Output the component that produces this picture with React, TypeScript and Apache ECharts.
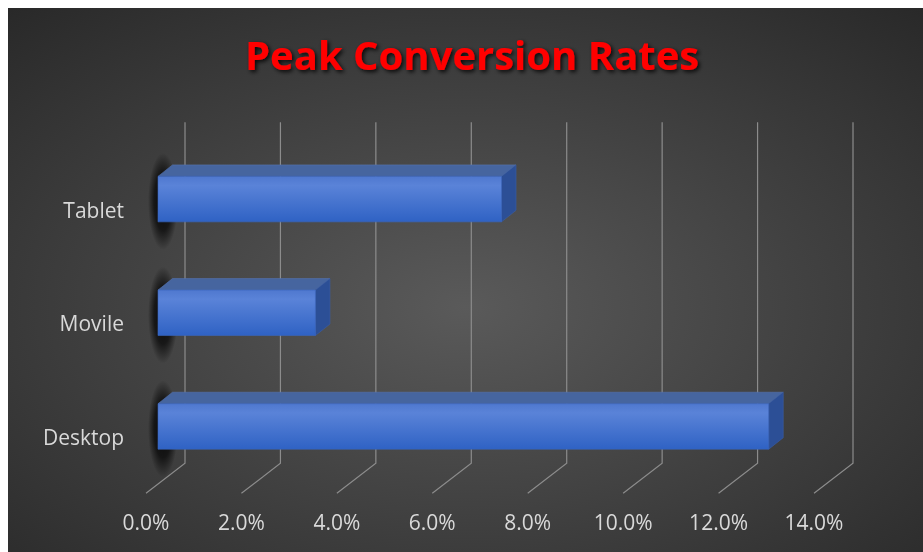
import React, { useEffect, useRef } from "react";
import * as echarts from "echarts";

const categories = ["Desktop", "Movile", "Tablet"];
const rates = [12.8, 3.3, 7.2];
const tickValues = [0, 2, 4, 6, 8, 10, 12, 14];
const titleText = "Peak Conversion Rates";

const DX = 14.5;
const DY = 11.5;

export default function App() {
  const ref = useRef<HTMLDivElement>(null);
  useEffect(() => {
    if (!ref.current) return;
    const chart = echarts.init(ref.current, undefined, { renderer: "svg" });
    const option: any = {
      animation: false,
      backgroundColor: {
        type: "radial",
        x: 0.5,
        y: 0.55,
        r: 0.8,
        colorStops: [
          { offset: 0, color: "#5a5a5a" },
          { offset: 1, color: "#252525" },
        ],
      },
      title: {
        text: titleText,
        left: 232,
        top: 21,
        textStyle: {
          color: "#ff0000",
          fontFamily: "Open Sans",
          fontWeight: "bold",
          fontSize: 40,
          textShadowColor: "rgba(0,0,0,0.85)",
          textShadowBlur: 4,
          textShadowOffsetX: 2,
          textShadowOffsetY: 2,
        },
      },
      grid: { left: 150, top: 134.3, width: 668, height: 341 },
      xAxis: {
        type: "value",
        min: 0,
        max: 14,
        interval: 2,
        splitLine: { show: false },
        axisLine: { show: false },
        axisTick: { show: false },
        axisLabel: {
          color: "#d9d9d9",
          fontFamily: "Open Sans",
          fontSize: 21,
          margin: 28,
          padding: [0, 24, 0, 0],
          formatter: (v: number) => v.toFixed(1) + "%",
        },
      },
      yAxis: {
        type: "category",
        data: categories,
        axisLine: { show: false },
        axisTick: { show: false },
        splitLine: { show: false },
        axisLabel: {
          color: "#d9d9d9",
          fontFamily: "Open Sans",
          fontSize: 21,
          lineHeight: 21,
          margin: 34,
          verticalAlign: "top",
        },
      },
      series: [
        {
          type: "custom",
          z: 1,
          clip: false,
          silent: true,
          data: tickValues.map((v) => [v, 0]),
          renderItem: (params: any, api: any) => {
            const cs = params.coordSys;
            const x = api.coord([api.value(0), 0])[0];
            const top = cs.y - 20;
            const backBottom = cs.y + cs.height - 20;
            const frontBottom = cs.y + cs.height + 10;
            return {
              type: "polyline",
              shape: {
                points: [
                  [x + 27, top],
                  [x + 27, backBottom],
                  [x - 12, frontBottom],
                ],
              },
              style: { stroke: "#8c8c8c", lineWidth: 1.2, fill: "none" },
            };
          },
        },
        {
          type: "custom",
          z: 2,
          clip: false,
          data: rates.map((v, i) => [v, i]),
          encode: { x: 0, y: 1 },
          renderItem: (params: any, api: any) => {
            const v = api.value(0);
            const c = api.value(1);
            const p0 = api.coord([0, c]);
            const p1 = api.coord([v, c]);
            const band = api.size([0, 1])[1];
            const h = band * 0.4;
            const yT = p0[1] - h / 2;
            const yB = p0[1] + h / 2;
            const x0 = p0[0];
            const x1 = p1[0];
            const sTop = yT - DY - 12;
            const sBot = yB + 28;
            return {
              type: "group",
              children: [
                {
                  type: "ellipse",
                  shape: { cx: x0 + 5, cy: (sTop + sBot) / 2, rx: 15, ry: (sBot - sTop) / 2 },
                  style: {
                    fill: {
                      type: "radial",
                      x: 0.5,
                      y: 0.5,
                      r: 0.5,
                      colorStops: [
                        { offset: 0, color: "rgba(0,0,0,0.9)" },
                        { offset: 0.6, color: "rgba(0,0,0,0.65)" },
                        { offset: 1, color: "rgba(0,0,0,0)" },
                      ],
                    },
                  },
                },
                {
                  type: "polygon",
                  shape: {
                    points: [
                      [x0, yT],
                      [x0 + DX, yT - DY],
                      [x1 + DX, yT - DY],
                      [x1, yT],
                    ],
                  },
                  style: { fill: "#46659f", stroke: "#5574b0", lineWidth: 0.6 },
                },
                {
                  type: "polygon",
                  shape: {
                    points: [
                      [x1, yT],
                      [x1 + DX, yT - DY],
                      [x1 + DX, yB - DY],
                      [x1, yB],
                    ],
                  },
                  style: { fill: "#2c4f96", stroke: "#3a5ea6", lineWidth: 0.6 },
                },
                {
                  type: "rect",
                  shape: { x: x0, y: yT, width: x1 - x0, height: h },
                  style: {
                    fill: {
                      type: "linear",
                      x: 0,
                      y: 0,
                      x2: 0,
                      y2: 1,
                      colorStops: [
                        { offset: 0, color: "#4f78cf" },
                        { offset: 0.2, color: "#5a83d8" },
                        { offset: 1, color: "#2f62c4" },
                      ],
                    },
                    stroke: "#3a66c0",
                    lineWidth: 0.6,
                  },
                },
              ],
            };
          },
        },
      ],
    };
    chart.setOption(option);
    return () => chart.dispose();
  }, []);
  return (
    <div
      ref={ref}
      style={{ position: "fixed", left: 8, top: 8, width: 915, height: 544 }}
    />
  );
}
